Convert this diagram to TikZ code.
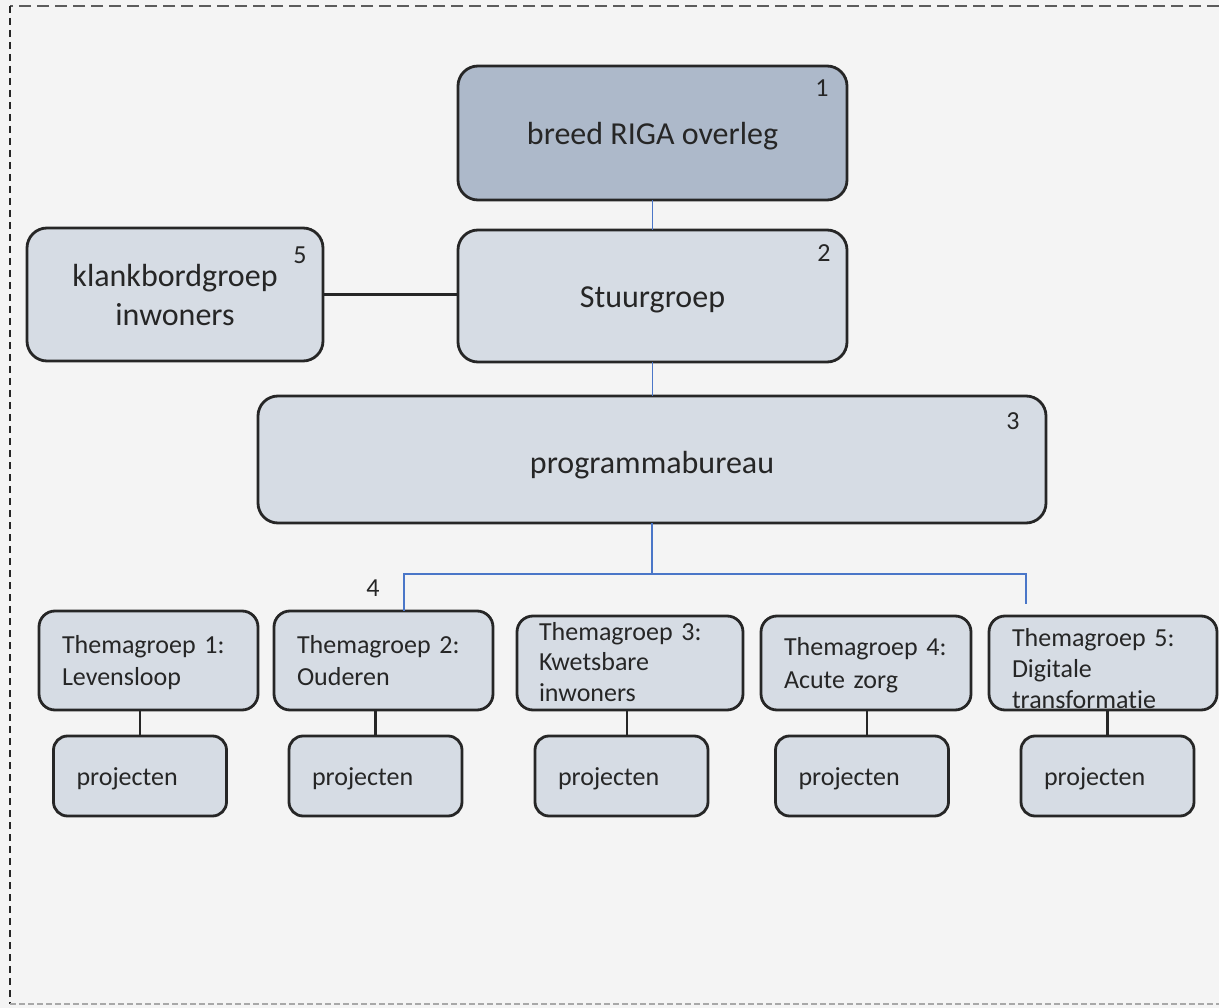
\documentclass[tikz,border=0pt]{standalone}
\usepackage{fontspec}
\setmainfont{Carlito}[Ligatures=NoCommon]
\definecolor{bgc}{HTML}{F4F4F4}
\definecolor{boxline}{HTML}{262626}
\definecolor{fillA}{HTML}{ADB9CA}
\definecolor{fillB}{HTML}{D6DCE4}
\definecolor{bluel}{HTML}{4A76C8}
\definecolor{frameg}{HTML}{A8A8A8}
\begin{document}
\begin{tikzpicture}[x=1pt,y=-1pt,
  bigbox/.style={draw=boxline,line width=2.8pt,rounded corners=20pt,fill=fillB,inner sep=0pt,outer sep=0pt,align=center,font=\fontsize{32}{39}\selectfont,text=boxline},
  themebox/.style={draw=boxline,line width=2.8pt,rounded corners=16pt,fill=fillB,inner xsep=23pt,inner ysep=0pt,outer sep=0pt,align=left,font=\fontsize{26}{32}\selectfont,text=boxline,text height=20pt},
  projbox/.style={draw=boxline,line width=2.8pt,rounded corners=14pt,fill=fillB,inner xsep=23pt,inner ysep=0pt,outer sep=0pt,align=left,font=\fontsize{26}{31}\selectfont,text=boxline,text width=127pt,minimum height=80pt,text height=18pt,text depth=0pt},
  numlab/.style={inner sep=0pt,anchor=base,font=\fontsize{26}{31}\selectfont,text=boxline},
  blueline/.style={draw=bluel,line width=1.6pt},
  blackline/.style={draw=boxline,line width=2.2pt},
]
\useasboundingbox (0,0) rectangle (1219,1008);
\fill[bgc] (0,0) rectangle (1219,1008);
% frame
\draw[line width=2.2pt,dash pattern=on 12pt off 6pt,draw=boxline!75] (1219,6) -- (10,6);
\draw[line width=2.2pt,dash pattern=on 7pt off 5pt,draw=boxline] (10,6) -- (10,1004);
\draw[line width=2pt,dash pattern=on 6pt off 3pt,draw=frameg] (10,1004) -- (1219,1004);

% top boxes
\node[bigbox,fill=fillA,minimum width=389pt,minimum height=134pt,text height=24pt,text depth=0pt] (b1) at (652.5,133) {breed RIGA overleg};
\node[bigbox,minimum width=389pt,minimum height=132pt,text height=24pt,text depth=0pt] (b2) at (652.5,296) {Stuurgroep};
\node[bigbox,minimum width=296pt,minimum height=133pt,text width=260pt,text height=24pt,text depth=39pt] (b5) at (175,294.5) {klankbordgroep\\inwoners};
\node[bigbox,minimum width=788pt,minimum height=127pt,text height=27pt,text depth=0pt] (b3) at (652,459.5) {programmabureau};

\node[numlab] (n1) at (822,97) {1};
\node[numlab] (n2) at (824,262) {2};
\node[numlab] (n5) at (300,264) {5};
\node[numlab] (n3) at (1013,429) {3};
\node[numlab] (n4) at (373,596) {4};

% theme boxes
\node[themebox,text width=173pt,minimum height=99pt,text depth=35pt] (t1) at (148.5,660.5) {Themagroep 1:\\Levensloop};
\node[themebox,text width=173pt,minimum height=99pt,text depth=35pt] (t2) at (383.5,660.5) {Themagroep 2:\\Ouderen};
\node[themebox,inner xsep=22pt,text width=182pt,minimum height=94pt,text depth=66pt,font=\fontsize{26}{30.5}\selectfont] (t3) at (630,663) {Themagroep 3:\\Kwetsbare\\inwoners};
\node[themebox,text width=164pt,minimum height=94pt,text depth=36pt,font=\fontsize{26}{33}\selectfont] (t4) at (866,663) {Themagroep 4:\\Acute zorg};
\node[themebox,text width=182pt,minimum height=94pt,text depth=54pt,font=\fontsize{26}{31}\selectfont] (t5) at (1103,663) {Themagroep 5:\\Digitale\\transformatie};

% project boxes
\node[projbox] (p1) at (140,776) {projecten};
\node[projbox] (p2) at (375.5,776) {projecten};
\node[projbox] (p3) at (621.5,776) {projecten};
\node[projbox] (p4) at (862,776) {projecten};
\node[projbox] (p5) at (1107.5,776) {projecten};

% connectors
\draw[blueline] (b1.south) -- (b2.north);
\draw[blueline] (b2.south) -- (b2.south |- b3.north);
\draw[blackline] (b5.east) -- (b5.east -| b2.west);
\coordinate (bus) at (652,574);
\coordinate (e5) at (1026,604);
\draw[blueline] (b3.south) -- (bus);
\draw[blueline] ([xshift=20.5pt]t2.north) |- (e5 |- bus) -- (e5);

\draw[blackline] (p1.north) -- (p1.north |- t1.south);
\draw[blackline] (p2.north) -- (p2.north |- t2.south);
\draw[blackline] ([xshift=5.5pt]p3.north) -- ([xshift=5.5pt]p3.north |- t3.south);
\draw[blackline] ([xshift=5pt]p4.north) -- ([xshift=5pt]p4.north |- t4.south);
\draw[blackline] (p5.north) -- (p5.north |- t5.south);
\end{tikzpicture}
\end{document}
